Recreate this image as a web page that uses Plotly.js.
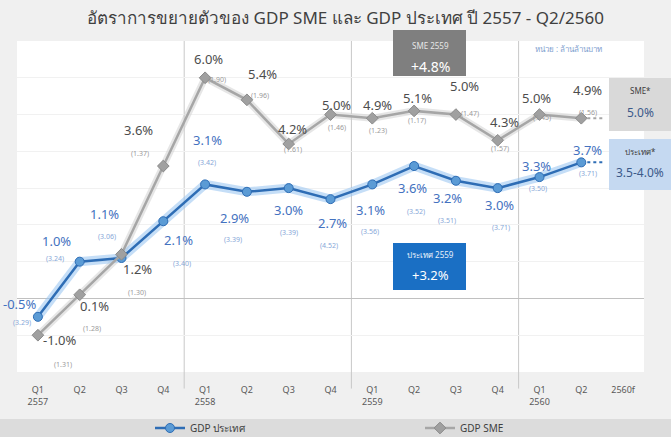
<!DOCTYPE html>
<html>
<head>
<meta charset="utf-8">
<script src="https://cdn.plot.ly/plotly-3.0.1.min.js"></script>
<style>html,body{margin:0;padding:0;background:#f0f0f0;}#chart{width:671px;height:437px;}</style>
</head>
<body>
<div id="chart"></div>
<script>
// ---- data ----
const quarters = ['Q1','Q2','Q3','Q4','Q1','Q2','Q3','Q4','Q1','Q2','Q3','Q4','Q1','Q2','2560f'];
const years    = ['2557','','','','2558','','','','2559','','','','2560','',''];
const gdpThai  = [-0.5, 1.0, 1.1, 2.1, 3.1, 2.9, 3.0, 2.7, 3.1, 3.6, 3.2, 3.0, 3.3, 3.7];
const gdpSME   = [-1.0, 0.1, 1.2, 3.6, 6.0, 5.4, 4.2, 5.0, 4.9, 5.1, 5.0, 4.3, 5.0, 4.9];
const thaiLevel = ['3.29','3.24','3.06','3.40','3.42','3.39','3.39','4.52','3.56','3.52','3.51','3.71','3.50','3.71'];
const smeLevel  = ['1.31','1.28','1.30','1.37','1.90','1.96','1.61','1.46','1.23','1.17','1.47','1.57','1.45','1.56'];
const sme2559 = '+4.8%';
const thai2559 = '+3.2%';
const smeForecast = '5.0%';
const thaiForecast = '3.5-4.0%';
const titleText = 'อัตราการขยายตัวของ GDP SME และ GDP ประเทศ ปี 2557 - Q2/2560';
const unitText = 'หน่วย : ล้านล้านบาท';
const nameThai = 'GDP ประเทศ';
const nameSME = 'GDP SME';

// ---- label offsets (pixels) ----
const thaiLblOff = [[-18,-13],[-23,-21],[-17,-44],[15,19],[2,-44],[-12,26],[0,22],[2,24],[-2,26],[-2,22],[-8,17],[2,17],[-3,-11],[6,-12]];
const thaiBrOff  = [[-16,6],[-25,-3],[-15,-21],[19,42],[2,-22],[-14,48],[0,44],[-2,46],[-2,47],[2,45],[-9,40],[3,39],[-2,11],[7,11]];
const smeLblOff  = [[22,5],[15,11],[16,15],[-25,-36],[3,-19],[16,-26],[4,-15],[6,-10],[5,-13],[3,-13],[9,-29],[7,-18],[-3,-17],[6,-28]];
const smeBrOff   = [[25,29],[12,34],[15,38],[-23,-13],[12,2],[13,-4],[4,6],[6,13],[6,12],[3,10],[14,-1],[2,8],[2,3],[7,-6]];

const xi = gdpThai.map((_, i) => i);
const FONT = 'Noto Sans, Liberation Sans, DejaVu Sans, sans-serif';

// pixel -> paper helpers (plot area: x 17..644, y 41..372)
const PX = px => (px - 17) / 627;
const PY = py => (372 - py) / 331;

const last = xi.length - 1;
const traces = [
  {x: xi, y: gdpSME, mode: 'lines', line: {color: 'rgba(205,205,205,0.5)', width: 7}, hoverinfo: 'skip', showlegend: false},
  {x: xi, y: gdpThai, mode: 'lines', line: {color: 'rgba(150,195,240,0.55)', width: 9}, hoverinfo: 'skip', showlegend: false},
  {x: [xi[last], xi[last] + 0.55], y: [gdpSME[last], gdpSME[last]], mode: 'lines',
   line: {color: '#a6a6a6', width: 2, dash: 'dot'}, showlegend: false, hoverinfo: 'skip'},
  {x: [xi[last], xi[last] + 0.55], y: [gdpThai[last], gdpThai[last]], mode: 'lines',
   line: {color: '#2e6db5', width: 2, dash: 'dot'}, showlegend: false, hoverinfo: 'skip'},
  {x: xi, y: gdpThai, name: nameThai, mode: 'lines+markers', legend: 'legend',
   line: {color: '#2e6db5', width: 2.5},
   marker: {symbol: 'circle', size: 9, color: '#5b9bd5', line: {color: '#2e6db5', width: 1}}},
  {x: xi, y: gdpSME, name: nameSME, mode: 'lines+markers', legend: 'legend2',
   line: {color: '#a6a6a6', width: 2.5},
   marker: {symbol: 'diamond', size: 9, color: '#a0a0a0', line: {color: '#8a8a8a', width: 1}}}
];

const annotations = [];
gdpThai.forEach((v, i) => {
  annotations.push({x: i, y: v, xref: 'x', yref: 'y', text: v.toFixed(1) + '%', showarrow: false,
    xshift: thaiLblOff[i][0], yshift: -thaiLblOff[i][1], font: {family: FONT, size: 13, color: '#4472c0'}});
  annotations.push({x: i, y: v, xref: 'x', yref: 'y', text: '(' + thaiLevel[i] + ')', showarrow: false,
    xshift: thaiBrOff[i][0], yshift: -thaiBrOff[i][1], font: {family: FONT, size: 7, color: '#86a8d8'}});
});
gdpSME.forEach((v, i) => {
  annotations.push({x: i, y: v, xref: 'x', yref: 'y', text: v.toFixed(1) + '%', showarrow: false,
    xshift: smeLblOff[i][0], yshift: -smeLblOff[i][1], font: {family: FONT, size: 13, color: '#4d4d4d'}});
  annotations.push({x: i, y: v, xref: 'x', yref: 'y', text: '(' + smeLevel[i] + ')', showarrow: false,
    xshift: smeBrOff[i][0], yshift: -smeBrOff[i][1], font: {family: FONT, size: 7, color: '#9a9a9a'}});
});

function boxText(x, y, text, size, color) {
  annotations.push({xref: 'paper', yref: 'paper', x: PX(x), y: PY(y), text: text, showarrow: false,
    xanchor: 'center', yanchor: 'middle', font: {family: FONT, size: size, color: color}});
}
boxText(430, 45, 'SME 2559', 8, '#e6e6e6');
boxText(430, 66, sme2559, 14, '#ffffff');
boxText(430, 255, 'ประเทศ 2559', 8, '#e8f0fa');
boxText(430, 275, thai2559, 13, '#ffffff');
boxText(640, 91, 'SME*', 8, '#404040');
boxText(640, 112, smeForecast, 12, '#3c5a8a');
boxText(640, 151, 'ประเทศ*', 8, '#404040');
boxText(640, 172, thaiForecast, 12, '#3c5a8a');
boxText(568, 48, unitText, 8, '#7f9fcf');

const shapes = [
  ...[3.5, 7.5, 11.5].map(b => ({type: 'line', xref: 'x', yref: 'paper', x0: b, x1: b, y0: -0.05, y1: 1,
    line: {color: '#c8c8c8', width: 1}, layer: 'below'})),
  {type: 'rect', xref: 'paper', yref: 'paper', x0: -0.03, x1: 1.05, y0: -0.2, y1: PY(419), fillcolor: '#dcdcdc', line: {width: 0}, layer: 'below'},
  {type: 'rect', xref: 'paper', yref: 'paper', x0: PX(393), x1: PX(466), y0: PY(76), y1: PY(30), fillcolor: '#7f7f7f', line: {width: 0}},
  {type: 'rect', xref: 'paper', yref: 'paper', x0: PX(393), x1: PX(466), y0: PY(290), y1: PY(243), fillcolor: '#1a6fc4', line: {width: 0}},
  {type: 'rect', xref: 'paper', yref: 'paper', x0: PX(609), x1: PX(672), y0: PY(131), y1: PY(78), fillcolor: '#d9d9d9', line: {width: 0}},
  {type: 'rect', xref: 'paper', yref: 'paper', x0: PX(609), x1: PX(672), y0: PY(190), y1: PY(139), fillcolor: '#c5d9f1', line: {width: 0}}
];

const legendBase = {orientation: 'h', xanchor: 'left', y: PY(428), yanchor: 'middle', bgcolor: 'rgba(0,0,0,0)',
                    font: {family: FONT, size: 10, color: '#404040'}};

const layout = {
  width: 671, height: 437,
  margin: {l: 17, r: 27, t: 41, b: 65, autoexpand: false},
  paper_bgcolor: '#f0f0f0',
  plot_bgcolor: '#ffffff',
  title: {text: titleText, x: 0.515, xanchor: 'center', y: 1 - 18/437, yanchor: 'middle', yref: 'container',
          font: {family: FONT, size: 17, color: '#404040'}},
  xaxis: {range: [-0.5, 14.5], tickvals: quarters.map((_, i) => i),
          ticktext: quarters.map((q, i) => years[i] ? q + '<br>' + years[i] : q),
          showgrid: false, zeroline: false, showline: false, ticks: '', ticklabelstandoff: 11,
          tickfont: {family: FONT, size: 9, color: '#595959'}, fixedrange: true, automargin: false},
  yaxis: {range: [-2, 7], dtick: 1, showticklabels: false, gridcolor: '#f1f1f1',
          zeroline: true, zerolinecolor: '#c0c0c0', zerolinewidth: 1, fixedrange: true, automargin: false},
  showlegend: true,
  legend: Object.assign({}, legendBase, {x: PX(150)}),
  legend2: Object.assign({}, legendBase, {x: PX(420)}),
  shapes: shapes,
  annotations: annotations
};

Plotly.newPlot('chart', traces, layout, {displayModeBar: false, staticPlot: true});
</script>
</body>
</html>
